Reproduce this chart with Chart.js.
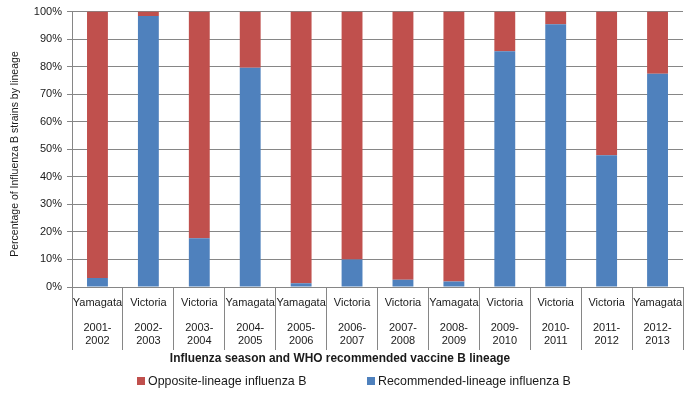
<!DOCTYPE html>
<html><head><meta charset="utf-8">
<script src="https://cdn.jsdelivr.net/npm/chart.js@4.4.1/dist/chart.umd.min.js"></script>
<style>html,body{margin:0;padding:0;background:#fff}#wrap{width:689px;height:393px;position:relative}</style>
</head><body><div id="wrap"><canvas id="c" width="689" height="393"></canvas></div>
<script>
const seasons = ["2001-2002","2002-2003","2003-2004","2004-2005","2005-2006","2006-2007","2007-2008","2008-2009","2009-2010","2010-2011","2011-2012","2012-2013"];
const lineages = ["Yamagata","Victoria","Victoria","Yamagata","Yamagata","Victoria","Victoria","Yamagata","Victoria","Victoria","Victoria","Yamagata"];
const recommended = [3.3, 98.4, 17.7, 79.6, 1.4, 10.0, 2.6, 2.0, 85.6, 95.4, 47.8, 77.4];
const opposite = [96.7, 1.6, 82.3, 20.4, 98.6, 90.0, 97.4, 98.0, 14.4, 4.6, 52.2, 22.6];
const seriesNames = ["Recommended-lineage influenza B", "Opposite-lineage influenza B"];
const yTitle = "Percentage of Influenza B strains by lineage";
const xTitle = "Influenza season and WHO recommended vaccine B lineage";

const FONT = "'Liberation Sans', Arial, sans-serif";
const TXT = "#1a1a1a";
const GRID = "#868686";

const labels = seasons.map((s, i) => { const p = s.split("-"); return [lineages[i], "", p[0] + "-", p[1]]; });

const extras = {
  id: "extras",
  afterDraw(chart) {
    const ctx = chart.ctx;
    ctx.save();
    ctx.fillStyle = TXT;
    // y title
    ctx.save();
    ctx.translate(15, 154);
    ctx.rotate(-Math.PI / 2);
    ctx.font = "10.5px " + FONT;
    ctx.textAlign = "center";
    ctx.textBaseline = "middle";
    ctx.fillText(yTitle, 0, 0);
    ctx.restore();
    // x title
    ctx.font = "bold 11.9px " + FONT;
    ctx.textAlign = "center";
    ctx.textBaseline = "middle";
    ctx.fillText(xTitle, 340, 359);
    // legend (reverse order)
    const ds = chart.data.datasets.slice().reverse();
    const xs = [137, 367];
    ctx.font = "12.4px " + FONT;
    ctx.textAlign = "left";
    ds.forEach((d, i) => {
      ctx.fillStyle = d.backgroundColor;
      ctx.fillRect(xs[i], 377, 8, 8);
      ctx.fillStyle = TXT;
      ctx.fillText(d.label, xs[i] + 11, 381.5);
    });
    ctx.restore();
  }
};

new Chart(document.getElementById("c"), {
  type: "bar",
  data: {
    labels: labels,
    datasets: [
      { label: seriesNames[0], data: recommended, backgroundColor: "#4F81BD" },
      { label: seriesNames[1], data: opposite, backgroundColor: "#C0504D" }
    ]
  },
  options: {
    responsive: false,
    devicePixelRatio: 1,
    animation: false,
    datasets: { bar: { barPercentage: 0.41, categoryPercentage: 1.0 } },
    layout: { padding: { left: 0, right: 6, top: 9, bottom: 0 } },
    plugins: { legend: { display: false }, tooltip: { enabled: false } },
    scales: {
      x: {
        stacked: true,
        grid: { drawOnChartArea: false, offset: true, tickLength: 63, color: GRID, lineWidth: 1 },
        border: { color: GRID },
        ticks: { font: { family: FONT, size: 11, lineHeight: "12.5px" }, color: TXT, padding: -53, maxRotation: 0, autoSkip: false },
        afterFit(s) { s.height = 106; }
      },
      y: {
        stacked: true,
        min: 0, max: 100,
        grid: { color: GRID, tickLength: 5 },
        border: { color: GRID },
        ticks: { stepSize: 10, callback: v => v + "%", font: { family: FONT, size: 11 }, color: TXT, padding: 5 },
        afterFit(s) { s.width = 72; }
      }
    }
  },
  plugins: [extras]
});
</script></body></html>
